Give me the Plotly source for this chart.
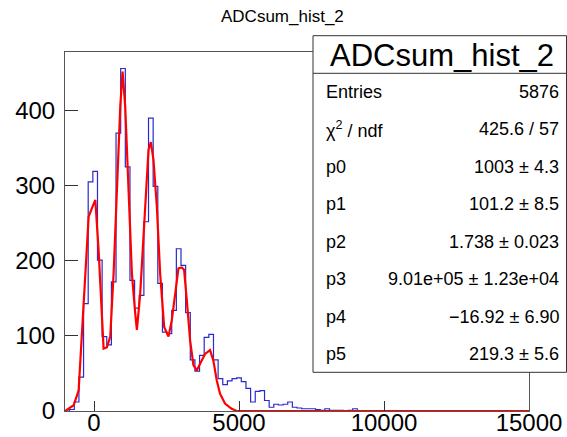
import plotly.graph_objects as go

# ---------------- data ----------------
bin_low = -1000
bin_width = 160
n_bins = 100
counts = [0, 2, 12, 45, 143, 305, 319, 201, 99, 88,
          172, 370, 456, 325, 174, 137, 154, 252, 390, 299,
          170, 105, 103, 134, 216, 194, 131, 68, 53, 74,
          98, 102, 68, 43, 35, 40, 43, 44, 39, 30,
          12, 26, 27, 14, 5, 9, 8, 9, 12, 5,
          4, 3, 3, 3, 2, 1, 3, 1, 1, 1,
          0, 1, 3] + [0] * 37

fit_x = [-1000, -701, -529, -357, -185, -70, 45, 159, 274, 331, 446, 561, 676,
         790, 905, 985, 1077, 1192, 1307, 1421, 1479, 1593, 1765, 1880, 1960,
         2052, 2167, 2281, 2419, 2568, 2683, 2798, 2912, 3027, 3107, 3199,
         3314, 3428, 3543, 3658, 3830, 4002, 4117, 4232, 4346, 4518, 4748,
         4920, 15000]
fit_y = [0, 7.6, 27.6, 138.7, 258.7, 270, 281, 214, 125, 83, 85, 99, 183,
         294, 405, 452, 405, 294, 183, 130, 108, 156, 263, 348, 358,
         334, 272, 183, 112, 99, 121, 156, 190, 191, 188, 148,
         94, 61, 54, 63, 76, 81, 67, 41, 23, 10, 3,
         0, 0]

x_ticks = [0, 5000, 10000, 15000]
y_ticks = [0, 100, 200, 300, 400]

stat_labels = ["Entries", "χ<sup>2</sup> / ndf", "p0", "p1", "p2", "p3", "p4", "p5"]
stat_values = ["5876", "425.6 / 57", "1003 ± 4.3", "101.2 ± 8.5",
               "1.738 ± 0.023", "9.01e+05 ± 1.23e+04", "−16.92 ± 6.90", "219.3 ± 5.6"]
hist_title = "ADCsum_hist_2"

# ---------------- figure ----------------
edges = [bin_low + bin_width * i for i in range(n_bins + 1)]
step_x = edges
step_y = counts + [counts[-1]]

fig = go.Figure()
fig.add_trace(go.Scatter(x=step_x, y=step_y, mode="lines", line_shape="hv",
                         line=dict(color="#2a2acc", width=1.2), hoverinfo="skip"))
fig.add_trace(go.Scatter(x=fit_x, y=fit_y, mode="lines",
                         line=dict(color="#ff0000", width=2.2), hoverinfo="skip"))

W, H = 567, 437
L, R, T, B = 65, 38, 52, 26
pw, ph = W - L - R, H - T - B

def px(x):
    return (x - L) / pw

def py(y):
    return (H - B - y) / ph

font = "Liberation Sans, Arial, Helvetica, sans-serif"

fig.update_layout(
    width=W, height=H,
    margin=dict(l=L, r=R, t=T, b=B, pad=0, autoexpand=False),
    paper_bgcolor="white", plot_bgcolor="white",
    showlegend=False,
    font=dict(family=font, color="black"),
    xaxis=dict(range=[-1000, 15000], tickvals=x_ticks, ticktext=[str(v) for v in x_ticks],
               ticks="inside", ticklen=10, tickcolor="#333", tickwidth=1,
               showline=True, linecolor="#555", linewidth=1, mirror=True,
               showgrid=False, zeroline=False, tickfont=dict(size=24, family=font),
               ticklabelstandoff=-10, automargin=False),
    yaxis=dict(range=[0, 478], tickvals=y_ticks, ticktext=[str(v) for v in y_ticks],
               ticks="inside", ticklen=13, tickcolor="#333", tickwidth=1,
               showline=True, linecolor="#555", linewidth=1, mirror=True,
               showgrid=False, zeroline=False, tickfont=dict(size=24, family=font),
               ticklabelstandoff=4, automargin=False),
)

# title
fig.add_annotation(text=hist_title, xref="paper", yref="paper", x=px(282), y=py(17),
                   xanchor="center", yanchor="middle", showarrow=False,
                   font=dict(size=17, family=font, color="black"))

# stats box
bx0, bx1, by0, by1, bsep = 313, 566.5, 35.7, 372.3, 73.3
fig.add_shape(type="rect", xref="paper", yref="paper",
              x0=px(bx0), x1=px(bx1), y0=py(by1), y1=py(by0),
              fillcolor="white", line=dict(color="#333", width=1), layer="above")
fig.add_shape(type="line", xref="paper", yref="paper",
              x0=px(bx0), x1=px(bx1), y0=py(bsep), y1=py(bsep),
              line=dict(color="#333", width=1), layer="above")
fig.add_annotation(text=hist_title, xref="paper", yref="paper", x=px((bx0 + bx1) / 2 + 2),
                   y=py((by0 + bsep) / 2 + 1), xanchor="center", yanchor="middle",
                   showarrow=False, font=dict(size=31, family=font, color="black"))
row_y = [91.7, 129.3, 166.7, 204.3, 241.7, 279.3, 316.7, 354.3]
for lab, val, yy in zip(stat_labels, stat_values, row_y):
    fig.add_annotation(text=lab, xref="paper", yref="paper", x=px(324), y=py(yy),
                       xanchor="left", yanchor="middle", showarrow=False,
                       font=dict(size=18, family=font, color="black"))
    fig.add_annotation(text=val, xref="paper", yref="paper", x=px(561), y=py(yy),
                       xanchor="right", yanchor="middle", showarrow=False,
                       font=dict(size=18, family=font, color="black"))

fig.write_html("out.html", config={"displayModeBar": False},
               post_script="document.body.style.margin='0';document.body.style.overflow='hidden';")
